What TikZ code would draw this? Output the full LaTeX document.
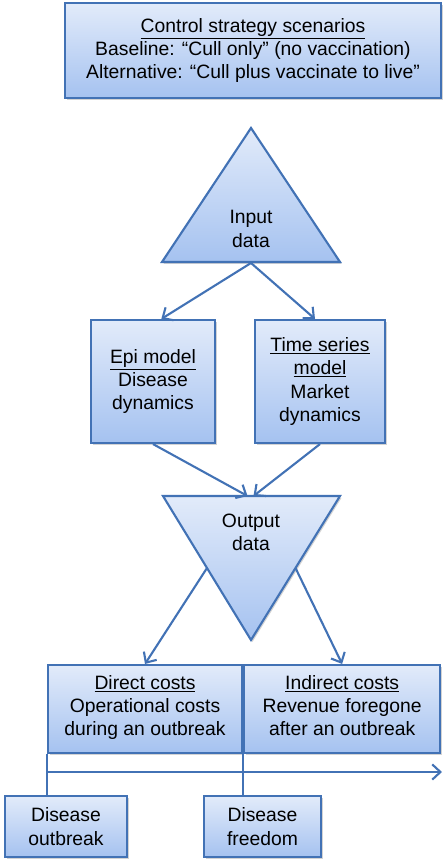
\documentclass[tikz,border=0pt]{standalone}
\usepackage{fontspec}
\setmainfont{Liberation Sans}
\usepackage{tikz}
\usetikzlibrary{arrows.meta,shadows,calc}
\definecolor{edgeblue}{HTML}{4272B5}
\definecolor{filltop}{HTML}{E2EBFA}
\definecolor{fillbot}{HTML}{A5C2F0}

\tikzset{
  box/.style={draw=edgeblue, line width=1.8pt, top color=filltop, bottom color=fillbot,
    drop shadow={opacity=0.35, shadow xshift=1.3pt, shadow yshift=-1.6pt}, align=center, inner sep=0pt},
  tri/.style={draw=edgeblue, line width=1.8pt, top color=filltop, bottom color=fillbot,
    drop shadow={opacity=0.35, shadow xshift=1.3pt, shadow yshift=-1.6pt}},
  flow/.style={draw=edgeblue, line width=1.8pt, -{Straight Barb[length=7pt,width=13pt]}},
  link/.style={draw=edgeblue, line width=1.8pt},
  lbl/.style={align=center, inner sep=0pt}
}

\begin{document}
\begin{tikzpicture}[x=0.03cm, y=-0.03cm, font=\fontsize{16.5}{19.8}\selectfont]
    \useasboundingbox (0,0) rectangle (447,867);

    % Scenarios
    \node[box, minimum width=11.28cm, minimum height=2.85cm] (scen) at (253,50.5)
        {\underline{Control strategy scenarios}\\Baseline: “Cull only” (no vaccination)\\Alternative: “Cull plus vaccinate to live”};

    % Input triangle
    \coordinate (in top) at (251,128);
    \coordinate (in right) at (340,262);
    \coordinate (in left) at (162,262);
    \path[tri] (in top) -- (in right) -- (in left) -- cycle;
    \node[lbl] (input) at (251,229) {Input\\data};

    % Models
    \node[box, minimum width=3.72cm, minimum height=3.69cm] (epi) at (153,381.5)
        {\underline{Epi model}\\Disease\\dynamics};
    \node[box, minimum width=3.9cm, minimum height=3.69cm] (ts) at (320,381.5)
        {\underline{Time series}\\\underline{model}\\Market\\dynamics};

    % Output triangle
    \coordinate (out left) at (163,496);
    \coordinate (out right) at (340,496);
    \coordinate (out tip) at (251,640);
    \path[tri] (out left) -- (out right) -- (out tip) -- cycle;
    \node[lbl] (output) at (251,532) {Output\\data};

    % Costs
    \node[box, minimum width=5.82cm, minimum height=2.64cm] (direct) at (145,709)
        {\underline{Direct costs}\\Operational costs\\during an outbreak\strut};
    \node[box, minimum width=5.88cm, minimum height=2.64cm, anchor=west] (indirect) at (direct.east)
        {\underline{Indirect costs}\\Revenue foregone\\after an outbreak\strut};

    % Periods
    \node[box, minimum width=3.66cm, minimum height=1.83cm] (outbreak) at (66,826.5) {Disease\\outbreak};
    \node[box, minimum width=3.51cm, minimum height=1.83cm] (freedom) at (262.5,826.5) {Disease\\freedom};

    % Connections
    \coordinate (in base) at (251,263);
    \draw[flow] (in base) -- ([xshift=0.25cm]epi.north);
    \draw[flow] (in base) -- ([xshift=-0.15cm]ts.north);
    \draw[flow] (epi.south) -- ([xshift=-0.12cm]$(out left)!0.5!(out right)$);
    \draw[flow] (ts.south) -- ([xshift=0.06cm]$(out left)!0.5!(out right)$);
    \draw[flow] ($(out left)!0.5!(out tip)$) -- (direct.north);
    \draw[flow] ($(out right)!0.5!(out tip)$) -- (indirect.north);

    % Timeline
    \coordinate (time end) at (442,772);
    \draw[link] (direct.south west) -- (direct.south west |- outbreak.north);
    \draw[link] (direct.south east) -- (direct.south east |- freedom.north);
    \draw[flow] (direct.south west |- time end) -- (time end);
\end{tikzpicture}
\end{document}
